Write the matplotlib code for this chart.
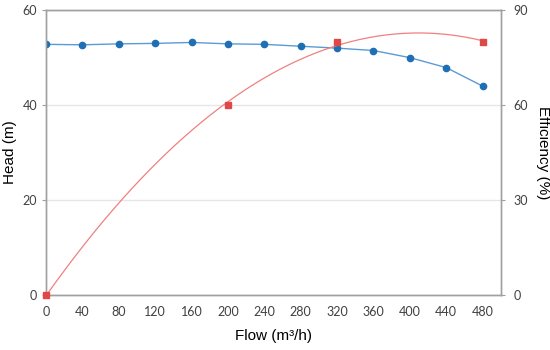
import numpy as np
import matplotlib
matplotlib.use('Agg')
import matplotlib.pyplot as plt
from matplotlib.ticker import MultipleLocator

plt.rcParams['font.family'] = ['Lato', 'DejaVu Sans']

# head curve
flow = [0, 40, 80, 120, 160, 200, 240, 280, 320, 360, 400, 440, 480]
head = [52.8, 52.7, 52.9, 53.0, 53.2, 52.9, 52.8, 52.4, 52.0, 51.5, 50.0, 47.9, 44.0]

# efficiency points
eff_flow = [0, 200, 320, 480]
eff = [0, 60, 80, 80]

fig = plt.figure(figsize=(5.5, 3.5), dpi=100)
ax = fig.add_axes([0.0836, 0.157, 0.827, 0.814])
ax2 = ax.twinx()

ax.plot(flow, head, color="#5b9bd5", lw=1.0, marker="o", ms=4.5,
        mfc="#1f6fb5", mec="#1f6fb5", zorder=3)

# 2nd order trendline through efficiency points
coef = np.polyfit(eff_flow, eff, 2)
xx = np.linspace(0, 480, 200)
ax2.plot(xx, np.polyval(coef, xx), color="#f08080", lw=0.9, zorder=2)
ax2.plot(eff_flow, eff, linestyle="", marker="s", ms=4.5,
         mfc="#e04848", mec="#e04848", clip_on=False, zorder=4)

ax.set_xlim(0, 500)
ax.set_ylim(0, 60)
ax2.set_ylim(0, 90)
ax.set_yticks([0, 20, 40, 60])
ax2.set_yticks([0, 30, 60, 90])
ax.xaxis.set_major_locator(MultipleLocator(40))
ax.xaxis.set_minor_locator(MultipleLocator(80))
ax.tick_params(axis="x", which="major", length=0, labelsize=9, colors="#404040", pad=8)
ax.tick_params(axis="x", which="minor", length=3, direction="in", color="#a0a0a0")
ax.tick_params(axis="y", length=3, labelsize=9, colors="#404040", color="#a0a0a0")
ax2.tick_params(axis="y", length=3, labelsize=9, colors="#404040", color="#a0a0a0", pad=6)

ax.grid(axis="y", color="#e6e6e6", lw=1.0)
ax.set_axisbelow(True)
for a in (ax, ax2):
    for s in a.spines.values():
        s.set_color("#a0a0a0")
        s.set_linewidth(1.0)

ax.set_xlabel("Flow (m³/h)", fontsize=11, family=["Liberation Sans", "DejaVu Sans"], labelpad=8)
ax.set_ylabel("Head (m)", fontsize=11, family=["Liberation Sans", "DejaVu Sans"], labelpad=4)
ax2.set_ylabel("Efficiency (%)", fontsize=11, family=["Liberation Sans", "DejaVu Sans"],
               rotation=-90, va="bottom", labelpad=6)

plt.savefig("out.png", dpi=100)
